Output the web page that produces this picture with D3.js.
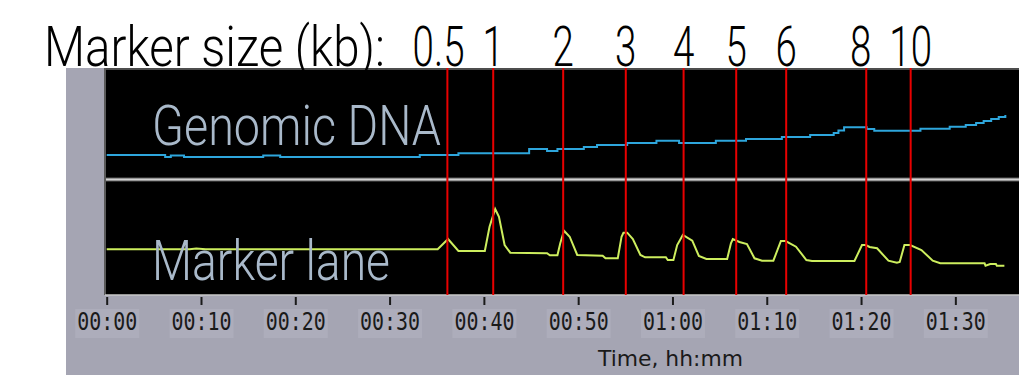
<!DOCTYPE html>
<html>
<head>
<meta charset="utf-8">
<script src="https://cdn.jsdelivr.net/npm/d3@7"></script>
<style>
  body { margin: 0; background: #fff; }
  svg { display: block; }
</style>
</head>
<body>
<svg id="chart"></svg>
<script>
// marker peaks (kb) and the run time (min) of each red guide line
let markerSizes = ['0.5', '1', '2', '3', '4', '5', '6', '8', '10'];
let markerTimes = [36.13, 40.99, 48.41, 55.05, 61.18, 66.76, 72.06, 80.55, 85.26];

// axis ticks, minutes
let tickMinutes = [0, 10, 20, 30, 40, 50, 60, 70, 80, 90];

// genomic DNA lane trace (stepped)
let dnaTime = [0, 6.2, 6.8, 8.2, 16.6, 18.4, 33.2, 37.3, 44.8, 46.7, 47.8, 50.6, 52.0, 55.2, 58.3, 60.7,
  64.6, 67.8, 71.6, 74.6, 77.1, 77.6, 78.2, 80.6, 81.4, 86.3, 89.4, 91.1, 92.2, 93.0, 93.8, 94.6, 95.3];
let dnaSignal = [20, 18, 19.5, 18, 19.5, 18, 20, 21.7, 26, 24, 26, 28, 30, 32, 34.3, 32,
  34.3, 36, 38, 40, 42, 44.5, 47.7, 46, 44.3, 46.3, 48.3, 50, 52, 54, 56, 58, 60];

// marker lane trace
let markerTime = [0, 8.8, 9.5, 10.5, 35.1, 36.2, 37.3, 40.1, 40.6, 41.2, 41.6, 42.2, 42.8, 46.7, 47.0, 47.8,
  48.1, 48.5, 49.1, 49.9, 52.6, 52.9, 54.2, 54.6, 54.8, 55.2, 55.8, 56.6, 57.1, 59.3, 59.5, 60.1,
  60.5, 61.1, 62.1, 62.8, 63.6, 65.8, 66.2, 66.4, 67.1, 67.9, 68.7, 69.5, 70.7, 71.5, 72.0, 73.1,
  74.2, 74.8, 79.3, 80.1, 80.5, 80.9, 81.7, 82.9, 83.8, 84.1, 84.6, 85.2, 86.4, 87.6, 88.4, 93.1,
  93.2, 93.7, 94.3, 94.4, 95.2];
let markerSignal = [40.7, 40.7, 41.5, 40.7, 40.7, 51, 39, 39, 63.3, 81, 73.3, 45, 37.3, 36.7, 34.7, 34.7,
  46.7, 59.3, 53.3, 35, 34.3, 31.7, 31.7, 53.3, 57.3, 57.3, 51, 35, 32.7, 32.7, 30, 30,
  45, 55, 49.3, 34, 31, 31, 46.7, 51, 48, 46, 31.7, 29.3, 29.3, 49, 49, 43.3,
  30, 29, 29, 45, 45, 43, 41.7, 29.3, 27.3, 28, 45, 45, 40, 29.3, 26.7, 26.7,
  24.3, 26, 26, 24.3, 24.3];

let width = 1025, height = 375;
let svg = d3.select('#chart').attr('width', width).attr('height', height);

let panelLeft = 66, plotLeft = 105, plotRight = 1019, plotTop = 68, plotBottom = 295;

let x = d3.scaleLinear().domain([0, 96.75]).range([106.7, plotRight]);
let yDna = d3.scaleLinear().domain([0, 100]).range([175, 75]);
let yMarker = d3.scaleLinear().domain([0, 100]).range([290, 190]);

// instrument window
svg.append('rect')
  .attr('x', panelLeft).attr('y', plotTop)
  .attr('width', plotRight - panelLeft).attr('height', height - plotTop)
  .attr('fill', '#a5a5b3');
svg.append('rect')
  .attr('x', plotLeft).attr('y', plotTop)
  .attr('width', plotRight - plotLeft).attr('height', plotBottom - plotTop)
  .attr('fill', '#000');
svg.append('line')
  .attr('x1', plotLeft).attr('x2', plotRight).attr('y1', plotTop + 1).attr('y2', plotTop + 1)
  .attr('stroke', '#4d4d4d').attr('stroke-width', 2);
svg.append('line')
  .attr('x1', plotLeft).attr('x2', plotLeft).attr('y1', plotTop).attr('y2', plotBottom)
  .attr('stroke', '#5a5a5a').attr('stroke-width', 2);
svg.append('line')
  .attr('x1', plotLeft).attr('x2', plotRight).attr('y1', plotBottom).attr('y2', plotBottom)
  .attr('stroke', '#c8c8c8').attr('stroke-width', 1.5);

// lane separator
svg.append('rect')
  .attr('x', plotLeft + 1).attr('y', 177.5)
  .attr('width', plotRight - plotLeft - 1).attr('height', 4)
  .attr('fill', '#5c5c5c');
svg.append('line')
  .attr('x1', plotLeft + 1).attr('x2', plotRight).attr('y1', 179.5).attr('y2', 179.5)
  .attr('stroke', '#d2d2d2').attr('stroke-width', 2);

// traces
let dnaLine = d3.line()
  .x((d, i) => x(dnaTime[i]))
  .y((d) => yDna(d))
  .curve(d3.curveStepAfter);
svg.append('path')
  .attr('d', dnaLine(dnaSignal))
  .attr('fill', 'none')
  .attr('stroke', '#2ea6dc')
  .attr('stroke-width', 2);

let markerLine = d3.line()
  .x((d, i) => x(markerTime[i]))
  .y((d) => yMarker(d));
svg.append('path')
  .attr('d', markerLine(markerSignal))
  .attr('fill', 'none')
  .attr('stroke', '#cdee5e')
  .attr('stroke-width', 2);

// lane names
let laneFont = 'Roboto, "Liberation Sans", sans-serif';
svg.append('text')
  .attr('x', 152).attr('y', 145)
  .attr('textLength', 289).attr('lengthAdjust', 'spacingAndGlyphs')
  .attr('font-family', laneFont).attr('font-weight', 300).attr('font-size', 55)
  .attr('fill', '#a9b9ca')
  .text('Genomic DNA');
svg.append('text')
  .attr('x', 152).attr('y', 280)
  .attr('textLength', 238).attr('lengthAdjust', 'spacingAndGlyphs')
  .attr('font-family', laneFont).attr('font-weight', 300).attr('font-size', 55)
  .attr('fill', '#a9b9ca')
  .text('Marker lane');

// red guide lines at marker peaks
svg.selectAll('line.marker')
  .data(markerTimes)
  .enter()
  .append('line')
  .attr('class', 'marker')
  .attr('x1', (d) => x(d)).attr('x2', (d) => x(d))
  .attr('y1', plotTop).attr('y2', plotBottom)
  .attr('stroke', '#e80000')
  .attr('stroke-width', 2);

// header, squeezed horizontally to the narrow look of the original
let title = svg.append('text')
  .attr('font-family', laneFont).attr('font-weight', 300).attr('font-size', 55)
  .attr('fill', '#000')
  .text('Marker size (kb):');
let titleScale = 341 / title.node().getComputedTextLength();
title.attr('transform', 'translate(44,66) scale(' + titleScale + ',1)');

let squeeze = 0.7;
let sizeLabels = svg.selectAll('text.size')
  .data(markerSizes)
  .enter()
  .append('text')
  .attr('class', 'size')
  .attr('text-anchor', 'middle')
  .attr('font-family', laneFont).attr('font-weight', 300).attr('font-size', 55)
  .attr('fill', '#000')
  .text((d) => d);

// centre each size on its line, nudging left when it would run into the next one
let minGap = 18;
let centres = markerTimes.map((t) => x(t));
let widths = sizeLabels.nodes().map((n) => n.getComputedTextLength() * squeeze);
for (let i = centres.length - 2; i >= 0; i--) {
  let gap = (centres[i + 1] - widths[i + 1] / 2) - (centres[i] + widths[i] / 2);
  if (gap < minGap) centres[i] -= (minGap - gap);
}
sizeLabels.attr('transform', (d, i) => 'translate(' + centres[i] + ',66) scale(' + squeeze + ',1)');

// time axis
let fmt = (m) => String(Math.floor(m / 60)).padStart(2, '0') + ':' + String(m % 60).padStart(2, '0');
let axis = d3.axisBottom(x)
  .tickValues(tickMinutes)
  .tickFormat(fmt)
  .tickSize(8)
  .tickPadding(8);
let axisG = svg.append('g')
  .attr('transform', 'translate(0,' + (plotBottom + 2) + ')')
  .call(axis);
axisG.select('.domain').remove();
axisG.selectAll('.tick line').attr('stroke', '#1a1a1a').attr('stroke-width', 2);
axisG.selectAll('.tick').insert('rect', 'text')
  .attr('x', -32).attr('y', 12).attr('width', 64).attr('height', 29)
  .attr('fill', '#adadbb');
axisG.selectAll('.tick text')
  .attr('font-family', '"DejaVu Sans Mono", monospace')
  .attr('font-size', 24)
  .attr('textLength', 60).attr('lengthAdjust', 'spacingAndGlyphs')
  .attr('fill', '#1a1a1a');

svg.append('text')
  .attr('x', 598).attr('y', 366)
  .attr('textLength', 145).attr('lengthAdjust', 'spacingAndGlyphs')
  .attr('font-family', '"DejaVu Sans", sans-serif').attr('font-size', 22)
  .attr('fill', '#1a1a1a')
  .text('Time, hh:mm');
</script>
</body>
</html>
